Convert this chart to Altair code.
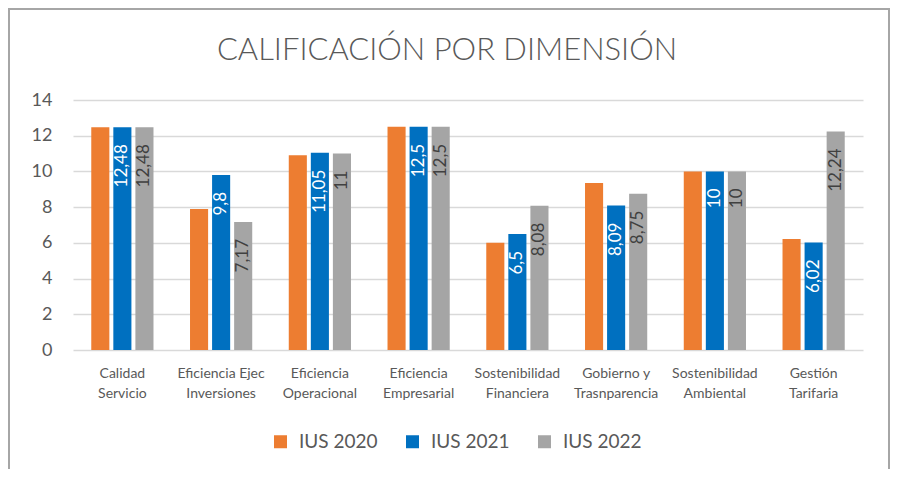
import altair as alt
import pandas as pd

chart_title = "CALIFICACIÓN POR DIMENSIÓN"
categories = [
    "Calidad\nServicio",
    "Eficiencia Ejec\nInversiones",
    "Eficiencia\nOperacional",
    "Eficiencia\nEmpresarial",
    "Sostenibilidad\nFinanciera",
    "Gobierno y\nTrasnparencia",
    "Sostenibilidad\nAmbiental",
    "Gestión\nTarifaria",
]
series = ["IUS 2020", "IUS 2021", "IUS 2022"]
ius_2020 = [12.48, 7.9, 10.9, 12.5, 6.0, 9.35, 10.0, 6.22]
ius_2021 = [12.48, 9.8, 11.05, 12.5, 6.5, 8.09, 10.0, 6.02]
ius_2022 = [12.48, 7.17, 11.0, 12.5, 8.08, 8.75, 10.0, 12.24]
colors = ["#ED7D31", "#0070C0", "#A5A5A5"]
y_ticks = [0, 2, 4, 6, 8, 10, 12, 14]

rows = []
for s, vals in zip(series, [ius_2020, ius_2021, ius_2022]):
    for c, v in zip(categories, vals):
        rows.append({"dim": c, "serie": s, "valor": v})
df = pd.DataFrame(rows)

FONT = "Lato"
GREY_TXT = "#595959"

x_enc = alt.X(
    "dim:N",
    sort=categories,
    scale=alt.Scale(paddingInner=0.37, paddingOuter=0.185),
    axis=alt.Axis(
        title=None,
        labelAngle=0,
        labelExpr="split(datum.label, '\\n')",
        labelFont=FONT,
        labelFontSize=14,
        labelColor=GREY_TXT,
        labelLineHeight=20,
        labelPadding=16,
        labelOverlap=False,
        labelLimit=300,
        domain=False,
        ticks=False,
    ),
)
xoff = alt.XOffset(
    "serie:N", sort=series, scale=alt.Scale(paddingInner=0.18, paddingOuter=0)
)
y_enc = alt.Y(
    "valor:Q",
    scale=alt.Scale(domain=[0, 14], nice=False),
    axis=alt.Axis(
        title=None,
        values=y_ticks,
        tickCount=8,
        labelFont=FONT,
        labelFontSize=18,
        labelColor=GREY_TXT,
        labelPadding=21,
        labelOverlap=False,
        gridColor="#D9D9D9",
        gridWidth=1.5,
        domain=False,
        ticks=False,
    ),
)

base = alt.Chart(df)

bars = base.mark_bar(strokeWidth=0).encode(
    x=x_enc,
    xOffset=xoff,
    y=y_enc,
    color=alt.Color(
        "serie:N",
        sort=series,
        scale=alt.Scale(domain=series, range=colors),
        legend=alt.Legend(
            title=None,
            orient="none",
            direction="horizontal",
            legendX=198,
            legendY=332,
            symbolType="square",
            symbolSize=169,
            symbolStrokeWidth=0,
            labelFont=FONT,
            labelFontSize=19,
            labelColor=GREY_TXT,
            labelOffset=9,
            columnPadding=25,
        ),
    ),
)

labels = (
    base.transform_filter("datum.serie != 'IUS 2020'")
    .transform_calculate(lbl="replace(toString(datum.valor), '.', ',')")
    .mark_text(angle=270, align="right", baseline="middle", dx=-17, font=FONT, fontSize=17)
    .encode(
        x=x_enc,
        xOffset=xoff,
        y=y_enc,
        text="lbl:N",
        color=alt.condition(
            "datum.serie == 'IUS 2021'", alt.value("white"), alt.value("#404040")
        ),
    )
)

title_mark = (
    alt.Chart(alt.Data(values=[{"t": chart_title}]))
    .mark_text(
        font=FONT,
        fontSize=31,
        fontWeight=300,
        color=GREY_TXT,
        align="center",
        baseline="alphabetic",
    )
    .encode(x=alt.value(374), y=alt.value(-40), text="t:N")
)

border = (
    alt.Chart(alt.Data(values=[{}]))
    .mark_rect(fill=None, stroke="#A6A6A6", strokeWidth=2)
    .encode(
        x=alt.value(-64),
        x2=alt.value(816),
        y=alt.value(-91),
        y2=alt.value(420),
    )
)

chart = (
    alt.layer(bars, labels, title_mark, border)
    .properties(
        width=790,
        height=250,
        background="white",
        padding={"left": 65, "top": 92, "right": 27, "bottom": 119},
        autosize=alt.AutoSizeParams(type="none"),
    )
    .configure_view(strokeOpacity=0, strokeWidth=0)
)

chart.save("out.html", embed_options={"renderer": "svg", "actions": False})
